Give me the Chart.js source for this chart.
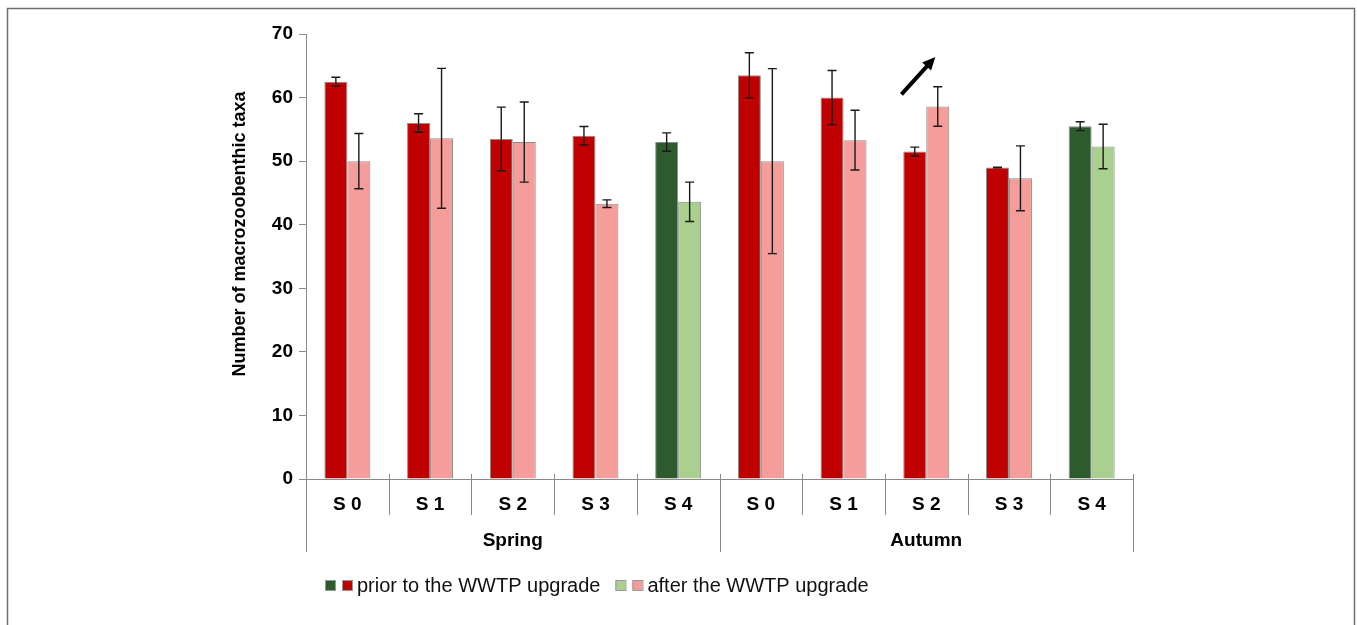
<!DOCTYPE html>
<html>
<head>
<meta charset="utf-8">
<script src="https://cdn.jsdelivr.net/npm/chart.js@4.4.1/dist/chart.umd.min.js"></script>
<style>
  body { margin: 0; background: #fff; }
  canvas { display: block; }
</style>
</head>
<body>
<canvas id="taxaChart" width="1357" height="625"></canvas>
<script>
// station labels and seasons
var categories = ['S 0', 'S 1', 'S 2', 'S 3', 'S 4', 'S 0', 'S 1', 'S 2', 'S 3', 'S 4'];
var seasons = ['Spring', 'Autumn'];
var yTicks = [0, 10, 20, 30, 40, 50, 60, 70];
var yTitle = 'Number of macrozoobenthic taxa';

// mean number of taxa and error (+/-)
var priorValues = [62.5, 56.0, 53.5, 54.0, 53.0, 63.5, 60.0, 51.5, 49.0, 55.5];
var priorErrors = [0.7, 1.45, 5.0, 1.45, 1.45, 3.55, 4.25, 0.7, 0.05, 0.7];
var afterValues = [50.0, 53.6, 53.0, 43.3, 43.6, 50.0, 53.3, 58.6, 47.3, 52.3];
var afterErrors = [4.35, 11.0, 6.3, 0.6, 3.1, 14.55, 4.7, 3.1, 5.1, 3.5];

var FONT = "'Liberation Sans', Arial, sans-serif";
var RED = '#c00000', PINK = '#f59d9a', DKGREEN = '#2e5b2e', LTGREEN = '#a9d08e';
var AXIS = '#8a8a8a';

var priorColors = categories.map(function(c) { return c === 'S 4' ? DKGREEN : RED; });
var afterColors = categories.map(function(c) { return c === 'S 4' ? LTGREEN : PINK; });

var errors = [priorErrors, afterErrors];

var extras = {
  id: 'extras',
  afterDatasetsDraw: function(chart) {
    var ctx = chart.ctx;
    var x = chart.scales.x, y = chart.scales.y;
    var cw = (x.right - x.left) / categories.length;

    // error bars
    ctx.save();
    ctx.strokeStyle = '#1a1a1a';
    ctx.lineWidth = 1.4;
    chart.data.datasets.forEach(function(ds, d) {
      var meta = chart.getDatasetMeta(d);
      meta.data.forEach(function(bar, i) {
        var v = ds.data[i], e = errors[d][i];
        var yt = y.getPixelForValue(v + e), yb = y.getPixelForValue(v - e);
        ctx.beginPath();
        ctx.moveTo(bar.x, yt); ctx.lineTo(bar.x, yb);
        ctx.moveTo(bar.x - 4.5, yt); ctx.lineTo(bar.x + 4.5, yt);
        ctx.moveTo(bar.x - 4.5, yb); ctx.lineTo(bar.x + 4.5, yb);
        ctx.stroke();
      });
    });
    ctx.restore();

    // arrow over autumn S 2
    var cx = x.getPixelForValue(7);
    var x0 = cx - 0.3 * cw, y0 = y.getPixelForValue(60.5);
    var x1 = cx + 0.11 * cw, y1 = y.getPixelForValue(66.4);
    var ang = Math.atan2(y1 - y0, x1 - x0);
    ctx.save();
    ctx.strokeStyle = '#000';
    ctx.fillStyle = '#000';
    ctx.lineWidth = 4;
    ctx.beginPath();
    ctx.moveTo(x0, y0);
    ctx.lineTo(x1 - 8 * Math.cos(ang), y1 - 8 * Math.sin(ang));
    ctx.stroke();
    ctx.beginPath();
    ctx.moveTo(x1, y1);
    ctx.lineTo(x1 - 13 * Math.cos(ang) + 6 * Math.sin(ang), y1 - 13 * Math.sin(ang) - 6 * Math.cos(ang));
    ctx.lineTo(x1 - 13 * Math.cos(ang) - 6 * Math.sin(ang), y1 - 13 * Math.sin(ang) + 6 * Math.cos(ang));
    ctx.closePath();
    ctx.fill();
    ctx.restore();
  },
  afterDraw: function(chart) {
    var ctx = chart.ctx;
    var x = chart.scales.x;
    var cw = (x.right - x.left) / categories.length;
    var base = x.top;

    ctx.save();
    // category separators
    ctx.strokeStyle = AXIS;
    ctx.lineWidth = 1;
    for (var i = 0; i <= categories.length; i++) {
      var px = Math.round(x.left + i * cw) + 0.5;
      ctx.beginPath();
      ctx.moveTo(px, base - 5);
      ctx.lineTo(px, i % 5 === 0 ? base + 73 : base + 36);
      ctx.stroke();
    }
    // season labels
    ctx.fillStyle = '#000';
    ctx.font = 'bold 19px ' + FONT;
    ctx.textAlign = 'center';
    ctx.textBaseline = 'middle';
    seasons.forEach(function(s, g) {
      var l = x.left + g * 5 * cw, r = l + 5 * cw;
      ctx.fillText(s, (l + r) / 2, base + 62);
    });

    // y title (sits a bit above the plot centre in the original)
    ctx.save();
    ctx.font = 'bold 18px ' + FONT;
    ctx.translate(240, 234);
    ctx.rotate(-Math.PI / 2);
    ctx.fillText(yTitle, 0, 0);
    ctx.restore();

    // legend
    ctx.font = '20px ' + FONT;
    ctx.textAlign = 'left';
    var items = [
      { text: 'prior to the WWTP upgrade', colors: [DKGREEN, RED] },
      { text: 'after the WWTP upgrade', colors: [LTGREEN, PINK] }
    ];
    var lx = 325, ly = 585;
    items.forEach(function(it) {
      it.colors.forEach(function(c, k) {
        ctx.fillStyle = c;
        ctx.fillRect(lx + k * 17, ly - 5, 10, 10);
        ctx.strokeStyle = '#999';
        ctx.strokeRect(lx + k * 17 + 0.5, ly - 4.5, 10, 10);
      });
      ctx.fillStyle = '#111';
      ctx.fillText(it.text, lx + 32, ly + 1);
      lx += 32 + ctx.measureText(it.text).width + 15;
    });

    // frame
    ctx.strokeStyle = '#6e6e6e';
    ctx.lineWidth = 1.5;
    ctx.strokeRect(7.5, 8.5, 1347, 640);
    ctx.restore();
  }
};

var ctx = document.getElementById('taxaChart').getContext('2d');
var taxaChart = new Chart(ctx, {
  type: 'bar',
  data: {
    labels: categories,
    datasets: [{
      label: 'prior to the WWTP upgrade',
      data: priorValues,
      backgroundColor: priorColors,
      borderColor: '#8c8c8c',
      borderWidth: 1
    }, {
      label: 'after the WWTP upgrade',
      data: afterValues,
      backgroundColor: afterColors,
      borderColor: '#8c8c8c',
      borderWidth: 1
    }]
  },
  options: {
    responsive: false,
    animation: false,
    categoryPercentage: 0.556,
    barPercentage: 1.0,
    layout: {
      padding: { left: 226, right: 224, top: 34, bottom: 0 }
    },
    scales: {
      x: {
        grid: { display: false },
        border: { display: true, color: AXIS, width: 1 },
        ticks: {
          color: '#000',
          padding: 6,
          font: { family: FONT, size: 19, weight: 'bold' }
        },
        afterFit: function(scale) { scale.height = 146; }
      },
      y: {
        min: 0,
        max: 70,
        afterBuildTicks: function(scale) {
          scale.ticks = yTicks.map(function(v) { return { value: v }; });
        },
        grid: { drawOnChartArea: false, tickLength: 7, color: AXIS },
        border: { display: true, color: AXIS, width: 1 },
        ticks: {
          color: '#000',
          padding: 6,
          font: { family: FONT, size: 19, weight: 'bold' }
        },
        afterFit: function(scale) { scale.width = 80; }
      }
    },
    plugins: {
      legend: { display: false },
      title: { display: false },
      tooltip: { enabled: false }
    }
  },
  plugins: [extras]
});
</script>
</body>
</html>
